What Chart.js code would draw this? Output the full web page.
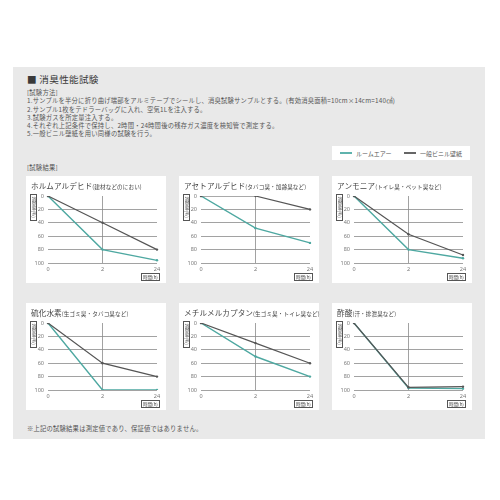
<!DOCTYPE html>
<html lang="ja">
<head>
<meta charset="utf-8">
<script src="https://cdn.jsdelivr.net/npm/chart.js@4.4.1/dist/chart.umd.min.js"></script>
<style>
  html, body { margin: 0; padding: 0; background: #fff; }
  body { width: 500px; height: 500px; position: relative; overflow: hidden;
         font-family: "Noto Sans CJK JP", "Noto Sans", sans-serif; color: #444; }
  .panel { position: absolute; left: 13px; top: 67px; width: 472px; height: 372px; background: #e9e9e9; }
  .abs { position: absolute; white-space: nowrap; }
  .heading { left: 14px; top: 5px; font-size: 9.6px; color: #3a3a3a; letter-spacing: 0.3px; }
  .method { left: 14px; top: 22px; font-size: 6.3px; line-height: 8.3px; color: #555; letter-spacing: 0.22px; }
  .result { left: 14px; top: 96px; font-size: 6.3px; color: #555; letter-spacing: 0.22px; }
  .note { left: 14px; top: 357px; font-size: 6.3px; color: #555; letter-spacing: 0.22px; }
  .legend { left: 319px; top: 79px; width: 138px; height: 14px; background: #fff; font-size: 6px; color: #555; }
  .legend span.sw { position: absolute; top: 6px; width: 12px; height: 2px; }
  .legend span.tx { position: absolute; top: 3px; }
  .card { position: absolute; width: 140px; height: 107px; background: #fff; }
  .card canvas { position: absolute; left: 0; top: 0; }
  .title { left: 5px; top: 4px; font-size: 7.6px; color: #444; letter-spacing: 0.1px; }
  .title small { font-size: 5.6px; }
  .ylab { left: 4px; top: 18px; width: 5px; height: 25px; border: 0.8px solid #555; font-size: 4.5px;
          writing-mode: vertical-rl; text-align: center; line-height: 5px; color: #444; }
  .xlab { left: 115px; top: 97px; width: 17px; height: 6px; border: 0.8px solid #555; font-size: 4.5px;
          line-height: 6px; text-align: center; color: #444; }
</style>
</head>
<body>
<div class="panel">
  <div class="abs heading">■ 消臭性能試験</div>
  <div class="abs method">
    [試験方法]<br>
    1.サンプルを半分に折り曲げ端部をアルミテープでシールし、消臭試験サンプルとする。(有効消臭面積=10cm×14cm=140㎠)<br>
    2.サンプル1枚をテドラーバッグに入れ、空気1Lを注入する。<br>
    3.試験ガスを所定量注入する。<br>
    4.それぞれ上記条件で保持し、2時間・24時間後の残存ガス濃度を検知管で測定する。<br>
    5.一般ビニル壁紙を用い同様の試験を行う。
  </div>
  <div class="abs legend">
    <span class="sw" style="left:8px;background:#5fb3ad"></span><span class="tx" style="left:24px">ルームエアー</span>
    <span class="sw" style="left:72px;background:#666"></span><span class="tx" style="left:88px">一般ビニル壁紙</span>
  </div>
  <div class="abs result">[試験結果]</div>
  <div class="abs note">※上記の試験結果は測定値であり、保証値ではありません。</div>
</div>
<div id="cards"></div>
<script>
const timeLabels = ['0', '2', '24'];
const gasNames = ['ホルムアルデヒド', 'アセトアルデヒド', 'アンモニア', '硫化水素', 'メチルメルカプタン', '酢酸'];
const gasNotes = ['(建材などのにおい)', '(タバコ臭・加齢臭など)', '(トイレ臭・ペット臭など)', '(生ゴミ臭・タバコ臭など)', '(生ゴミ臭・トイレ臭など)', '(汗・排泄臭など)'];
const roomAir = [
  [0, 80, 96],
  [0, 48, 70],
  [0, 80, 93],
  [0, 100, 100],
  [0, 50, 80],
  [0, 97, 98]
];
const vinyl = [
  [0, 40, 80],
  [0, 0, 20],
  [0, 57, 88],
  [0, 60, 80],
  [0, 30, 60],
  [0, 96, 95]
];
const yTicks = [0, 20, 40, 60, 80, 100];

const TEAL = '#4ea8a1';
const DARK = '#555555';
const GRID = '#8a8a8a';
const cardX = [26, 179, 332];
const cardY = [176, 303];

const holder = document.getElementById('cards');

gasNames.forEach((name, i) => {
  const card = document.createElement('div');
  card.className = 'card';
  card.style.left = cardX[i % 3] + 'px';
  card.style.top = cardY[Math.floor(i / 3)] + 'px';
  card.innerHTML =
    '<canvas width="140" height="107"></canvas>' +
    '<div class="abs title">' + name + '<small>' + gasNotes[i] + '</small></div>' +
    '<div class="abs ylab">消臭率(%)</div>' +
    '<div class="abs xlab">時間(h)</div>';
  holder.appendChild(card);

  const tickFont = { size: 5.5, family: "'Noto Sans', sans-serif" };
  new Chart(card.querySelector('canvas'), {
    type: 'line',
    data: {
      labels: timeLabels,
      datasets: [
        { label: '一般ビニル壁紙', data: vinyl[i], borderColor: DARK, backgroundColor: DARK,
          borderWidth: 1.2, pointRadius: 1.2, pointBorderWidth: 0, tension: 0 },
        { label: 'ルームエアー', data: roomAir[i], borderColor: TEAL, backgroundColor: TEAL,
          borderWidth: 1.4, pointRadius: 1.2, pointBorderWidth: 0, tension: 0 }
      ]
    },
    options: {
      responsive: false,
      animation: false,
      events: [],
      layout: { padding: { top: 20, right: 9, left: 0, bottom: 0 } },
      plugins: { legend: { display: false }, tooltip: { enabled: false } },
      scales: {
        x: {
          offset: false,
          border: { display: false },
          grid: { color: c => c.index === 1 ? GRID : 'transparent', lineWidth: 0.8, drawTicks: false },
          ticks: { color: '#777', font: tickFont, padding: 3, maxRotation: 0, autoSkip: false },
          afterFit: s => { s.height = 20; }
        },
        y: {
          reverse: true,
          min: 0,
          max: 100,
          afterBuildTicks: s => { s.ticks = yTicks.map(v => ({ value: v })); },
          border: { display: false },
          grid: { color: c => (c.tick && c.tick.value === 0) ? 'transparent' : GRID, lineWidth: 0.8, drawTicks: false },
          ticks: { color: '#777', font: tickFont, padding: 4 },
          afterFit: s => { s.width = 22; }
        }
      }
    }
  });
});
</script>
</body>
</html>
